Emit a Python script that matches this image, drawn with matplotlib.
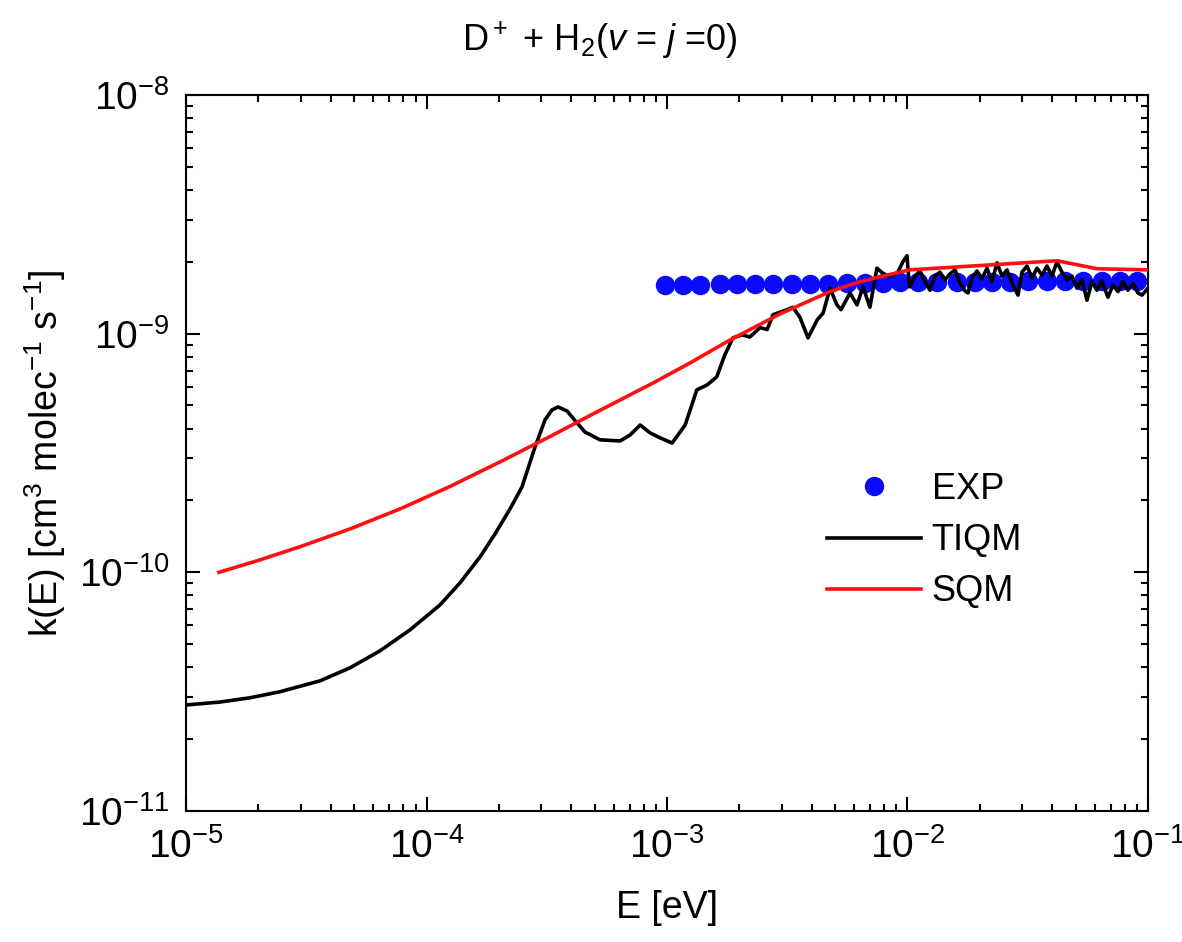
import matplotlib
matplotlib.use("Agg")
import matplotlib.pyplot as plt
from matplotlib.ticker import LogLocator, NullFormatter

plt.rcParams['font.family'] = ['Liberation Sans', 'DejaVu Sans']
plt.rcParams['mathtext.fontset'] = 'custom'
plt.rcParams['mathtext.rm'] = 'Liberation Sans'
plt.rcParams['mathtext.it'] = 'Liberation Sans:italic'
plt.rcParams['mathtext.bf'] = 'Liberation Sans:bold'

# EXP points
exp_E = [9.81e-4, 1.165e-3, 1.372e-3, 1.661e-3, 1.955e-3, 2.322e-3, 2.758e-3,
         3.310e-3, 3.933e-3, 4.671e-3, 5.605e-3, 6.656e-3, 7.908e-3, 9.307e-3,
         1.106e-2, 1.326e-2, 1.606e-2, 1.909e-2, 2.246e-2, 2.668e-2, 3.170e-2,
         3.802e-2, 4.517e-2, 5.365e-2, 6.438e-2, 7.649e-2, 9.00e-2]
exp_k = [1.60e-9, 1.60e-9, 1.60e-9, 1.61e-9, 1.61e-9, 1.61e-9, 1.62e-9,
         1.62e-9, 1.62e-9, 1.62e-9, 1.63e-9, 1.63e-9, 1.63e-9, 1.64e-9,
         1.64e-9, 1.64e-9, 1.65e-9, 1.65e-9, 1.65e-9, 1.65e-9, 1.66e-9,
         1.66e-9, 1.66e-9, 1.66e-9, 1.66e-9, 1.66e-9, 1.66e-9]

# TIQM curve
tiqm_E = [1.0e-5, 1.384e-5, 1.845e-5, 2.46e-5, 3.61e-5, 4.81e-5, 6.41e-5, 8.54e-5,
          1.138e-4, 1.378e-4, 1.669e-4, 1.927e-4, 2.224e-4, 2.495e-4, 2.826e-4,
          3.110e-4, 3.325e-4, 3.522e-4, 3.839e-4, 4.22e-4, 4.56e-4, 5.26e-4,
          6.38e-4, 7.02e-4, 7.73e-4, 8.50e-4, 9.35e-4, 1.05e-3, 1.19e-3,
          1.33e-3, 1.47e-3, 1.61e-3, 1.74e-3, 1.88e-3, 2.05e-3, 2.21e-3, 2.44e-3,
          2.61e-3, 2.76e-3, 3.16e-3, 3.34e-3, 3.57e-3, 3.86e-3, 4.21e-3, 4.46e-3,
          4.76e-3, 5.09e-3, 5.29e-3, 5.77e-3, 6.17e-3, 6.53e-3, 6.98e-3, 7.46e-3,
          7.91e-3, 8.45e-3, 9.12e-3, 9.57e-3, 9.95e-3, 1.02e-2,
          1.075e-2, 1.127e-2, 1.182e-2, 1.240e-2, 1.301e-2, 1.365e-2, 1.432e-2,
          1.502e-2, 1.576e-2, 1.653e-2, 1.734e-2, 1.785e-2, 1.855e-2, 1.945e-2,
          2.041e-2, 2.141e-2, 2.246e-2, 2.356e-2, 2.472e-2, 2.593e-2, 2.720e-2,
          2.881e-2, 2.993e-2, 3.140e-2, 3.294e-2, 3.455e-2, 3.625e-2, 3.802e-2,
          3.988e-2, 4.184e-2, 4.389e-2, 4.604e-2, 4.831e-2, 5.068e-2, 5.316e-2,
          5.577e-2, 5.851e-2, 6.137e-2, 6.438e-2, 6.818e-2, 7.153e-2, 7.504e-2,
          7.871e-2, 8.258e-2, 8.663e-2, 9.088e-2, 9.443e-2, 1.0e-1]
tiqm_k = [2.78e-11, 2.86e-11, 2.98e-11, 3.16e-11, 3.51e-11, 3.98e-11, 4.69e-11, 5.74e-11,
          7.30e-11, 9.03e-11, 1.160e-10, 1.448e-10, 1.843e-10, 2.28e-10, 3.35e-10,
          4.35e-10, 4.79e-10, 4.93e-10, 4.74e-10, 4.23e-10, 3.87e-10, 3.59e-10,
          3.55e-10, 3.76e-10, 4.14e-10, 3.84e-10, 3.66e-10, 3.48e-10, 4.14e-10,
          5.81e-10, 6.10e-10, 6.59e-10, 8.15e-10, 9.60e-10, 9.88e-10, 9.68e-10, 1.06e-9,
          1.04e-9, 1.20e-9, 1.26e-9, 1.29e-9, 1.17e-9, 9.60e-10, 1.14e-9, 1.22e-9,
          1.55e-9, 1.32e-9, 1.26e-9, 1.48e-9, 1.32e-9, 1.57e-9, 1.29e-9, 1.88e-9,
          1.79e-9, 1.73e-9, 1.81e-9, 2.00e-9, 2.12e-9, 1.57e-9,
          1.74e-9, 1.83e-9, 1.66e-9, 1.52e-9, 1.74e-9, 1.81e-9, 1.68e-9,
          1.78e-9, 1.85e-9, 1.63e-9, 1.51e-9, 1.48e-9, 1.71e-9, 1.83e-9,
          1.70e-9, 1.88e-9, 1.65e-9, 1.98e-9, 1.74e-9, 1.85e-9, 1.63e-9,
          1.45e-9, 1.81e-9, 1.92e-9, 1.71e-9, 1.88e-9, 1.76e-9, 1.92e-9,
          1.74e-9, 2.00e-9, 1.81e-9, 1.68e-9, 1.74e-9, 1.55e-9, 1.68e-9,
          1.38e-9, 1.65e-9, 1.52e-9, 1.66e-9, 1.42e-9, 1.60e-9, 1.50e-9,
          1.65e-9, 1.52e-9, 1.62e-9, 1.48e-9, 1.45e-9, 1.55e-9]

# SQM curve
sqm_E = [1.37e-5, 1.99e-5, 2.98e-5, 4.81e-5, 7.76e-5, 1.253e-4, 2.02e-4, 3.27e-4,
         5.26e-4, 8.75e-4, 1.247e-3, 1.83e-3, 2.95e-3, 4.76e-3, 6.34e-3, 7.69e-3,
         1.02e-2, 4.19e-2, 6.14e-2, 1.0e-1]
sqm_k = [1.00e-10, 1.12e-10, 1.28e-10, 1.52e-10, 1.843e-10, 2.29e-10, 2.90e-10, 3.71e-10,
         4.77e-10, 6.21e-10, 7.54e-10, 9.41e-10, 1.209e-9, 1.50e-9, 1.65e-9, 1.73e-9,
         1.85e-9, 2.02e-9, 1.87e-9, 1.85e-9]

fig = plt.figure(figsize=(11.82, 9.42), dpi=100)
ax = fig.add_axes([0.1574, 0.1391, 0.8138, 0.7601])

ax.plot(exp_E, exp_k, 'o', color='#0a0aff', markersize=13, label='EXP', zorder=2)
ax.plot(tiqm_E, tiqm_k, '-', color='black', lw=2.6, label='TIQM', zorder=3)
ax.plot(sqm_E, sqm_k, '-', color='#ff1010', lw=2.6, label='SQM', zorder=4)

ax.set_xscale('log')
ax.set_yscale('log')
ax.set_xlim(1e-5, 1e-1)
ax.set_ylim(1e-11, 1e-8)

ax.xaxis.set_major_locator(LogLocator(base=10, numticks=10))
ax.xaxis.set_minor_locator(LogLocator(base=10, subs=range(2, 10), numticks=20))
ax.yaxis.set_major_locator(LogLocator(base=10, numticks=10))
ax.yaxis.set_minor_locator(LogLocator(base=10, subs=range(2, 10), numticks=20))
ax.xaxis.set_minor_formatter(NullFormatter())
ax.yaxis.set_minor_formatter(NullFormatter())

ax.tick_params(which='both', direction='in', top=True, right=True, width=1.5)
ax.tick_params(which='major', length=10, labelsize=28, pad=12)
ax.tick_params(which='minor', length=5)
for s in ax.spines.values():
    s.set_linewidth(1.5)

ax.set_xlabel('E [eV]', fontsize=27, labelpad=18)
ax.set_ylabel(r'k(E) [cm$^3$ molec$^{-1}$ s$^{-1}$]', fontsize=27, labelpad=8)

fig.text(600 / 1182, 1 - 40 / 942, r'D$^+$ + H$_2$($\mathit{v}$ = $\mathit{j}$ =0)',
         fontsize=26, ha='center', va='center')

ax.legend(loc='upper left', bbox_to_anchor=(827 / 1182, 1 - 472 / 942),
          bbox_transform=fig.transFigure, frameon=False, fontsize=26,
          handlelength=2.6, handletextpad=0.3, labelspacing=0.45,
          borderpad=0, borderaxespad=0, numpoints=1)

fig.savefig('out.png', dpi=100)
